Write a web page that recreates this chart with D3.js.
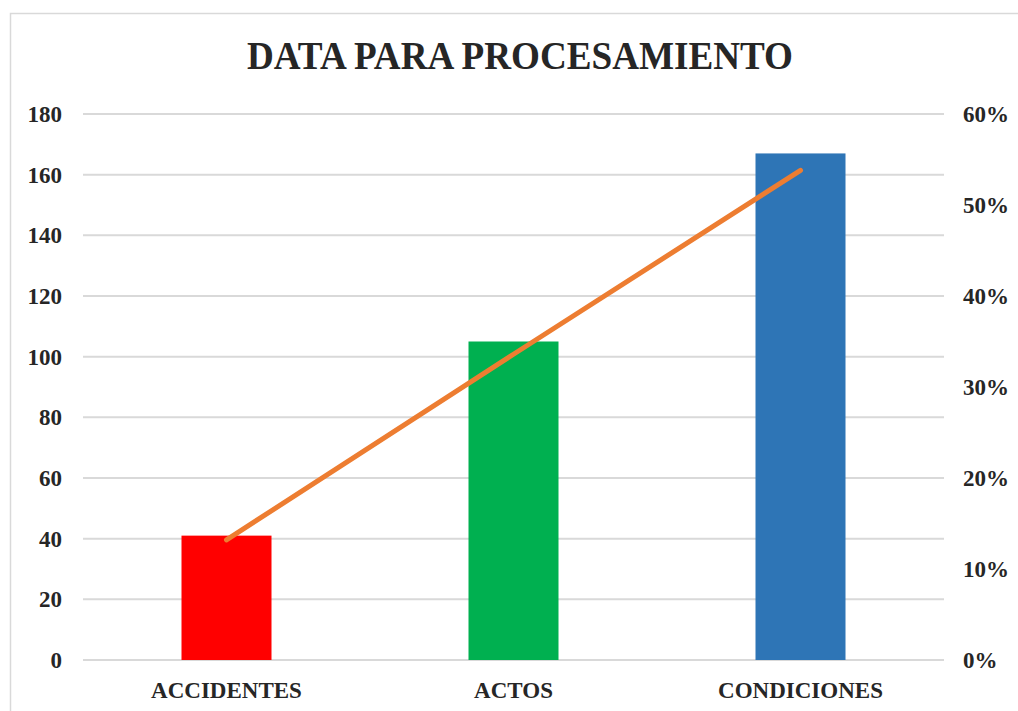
<!DOCTYPE html>
<html>
<head>
<meta charset="utf-8">
<script src="https://cdn.jsdelivr.net/npm/d3@7"></script>
<style>
  body { margin: 0; background: #fff; }
  text { font-family: "Liberation Serif", "Times New Roman", serif; font-weight: bold; fill: #262626; }
</style>
</head>
<body>
<div id="chart"></div>
<script>
// data
const categories = ["ACCIDENTES", "ACTOS", "CONDICIONES"];
const counts = [41, 105, 167];
const shares = [0.132, 0.336, 0.538];
const barColors = ["#FF0000", "#00B050", "#2E75B6"];
const leftTicks = [0, 20, 40, 60, 80, 100, 120, 140, 160, 180];
const rightTicks = [0, 0.1, 0.2, 0.3, 0.4, 0.5, 0.6];
const title = "DATA PARA PROCESAMIENTO";

const width = 1018, height = 711;
const margin = { top: 114, right: 74, bottom: 51, left: 83 };

const svg = d3.select("#chart")
    .append("svg")
    .attr("width", width)
    .attr("height", height);

// chart area border
svg.append("rect")
    .attr("x", 10.5).attr("y", 13.5)
    .attr("width", 1040).attr("height", 720)
    .attr("fill", "none")
    .attr("stroke", "#d9d9d9")
    .attr("stroke-width", 1.5);

// title is a bit condensed in the original
svg.append("text")
    .attr("x", 520)
    .attr("y", 69)
    .attr("text-anchor", "middle")
    .attr("font-size", "40px")
    .attr("textLength", 546)
    .attr("lengthAdjust", "spacingAndGlyphs")
    .text(title);

const x = d3.scaleBand()
    .domain(categories)
    .range([margin.left, width - margin.right])
    .paddingInner(0)
    .paddingOuter(0);

const y = d3.scaleLinear()
    .domain([0, 180])
    .range([height - margin.bottom, margin.top]);

const y2 = d3.scaleLinear()
    .domain([0, 0.6])
    .range([height - margin.bottom, margin.top]);

// gridlines
svg.append("g")
    .selectAll("line")
    .data(leftTicks)
    .join("line")
    .attr("x1", margin.left)
    .attr("x2", width - margin.right)
    .attr("y1", d => y(d))
    .attr("y2", d => y(d))
    .attr("stroke", "#d9d9d9")
    .attr("stroke-width", 2);

// left axis
const yAxis = svg.append("g")
    .attr("transform", "translate(" + (margin.left - 21) + ",0)")
    .call(d3.axisLeft(y).tickValues(leftTicks).tickSize(0).tickPadding(0));
yAxis.select(".domain").remove();
yAxis.selectAll("text")
    .attr("font-size", "23px")
    .attr("font-family", "Liberation Serif")
    .attr("fill", "#262626");

// right axis
const y2Axis = svg.append("g")
    .attr("transform", "translate(" + (width - margin.right + 19) + ",0)")
    .call(d3.axisRight(y2).tickValues(rightTicks).tickFormat(d3.format(".0%")).tickSize(0).tickPadding(0));
y2Axis.select(".domain").remove();
y2Axis.selectAll("text")
    .attr("font-size", "23px")
    .attr("font-family", "Liberation Serif")
    .attr("fill", "#262626");

// bars
const barWidth = 90;
svg.append("g")
    .selectAll("rect")
    .data(categories)
    .join("rect")
    .attr("x", d => x(d) + x.bandwidth() / 2 - barWidth / 2)
    .attr("width", barWidth)
    .attr("y", (d, i) => y(counts[i]))
    .attr("height", (d, i) => y(0) - y(counts[i]))
    .attr("fill", (d, i) => barColors[i]);

// share line
const line = d3.line()
    .x((d, i) => x(categories[i]) + x.bandwidth() / 2)
    .y(d => y2(d));

svg.append("path")
    .datum(shares)
    .attr("d", line)
    .attr("fill", "none")
    .attr("stroke", "#ED7D31")
    .attr("stroke-width", 5)
    .attr("stroke-linecap", "round");

// category labels
const xAxis = svg.append("g")
    .attr("transform", "translate(0," + (height - margin.bottom) + ")")
    .call(d3.axisBottom(x).tickSize(0).tickPadding(0));
xAxis.select(".domain").remove();
xAxis.selectAll("text")
    .attr("y", 38)
    .attr("dy", null)
    .attr("font-size", "23px")
    .attr("font-family", "Liberation Serif")
    .attr("fill", "#262626");
</script>
</body>
</html>
